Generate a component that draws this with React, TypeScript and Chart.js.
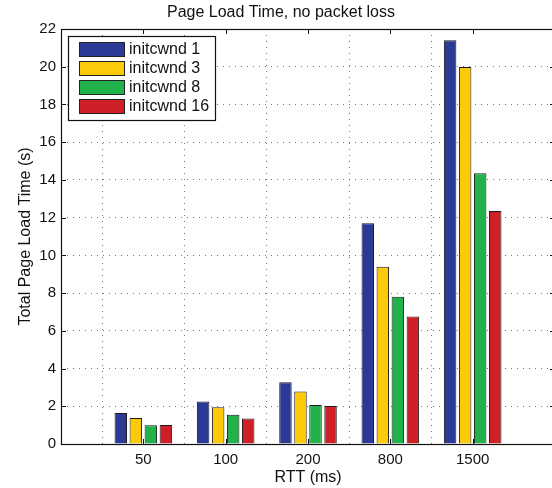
import React, { useEffect, useRef } from "react";
import { Chart, registerables } from "chart.js";

Chart.register(...registerables);

const categories = ["50", "100", "200", "800", "1500"];
const seriesLabels = ["initcwnd 1", "initcwnd 3", "initcwnd 8", "initcwnd 16"];
const initcwnd1 = [1.65, 2.25, 3.28, 11.7, 21.4];
const initcwnd3 = [1.38, 1.95, 2.78, 9.4, 19.98];
const initcwnd8 = [1.0, 1.55, 2.07, 7.8, 14.35];
const initcwnd16 = [1.01, 1.35, 2.01, 6.76, 12.35];
const yTicks = [0, 2, 4, 6, 8, 10, 12, 14, 16, 18, 20, 22];

const colors = ["#2b3a94", "#fdca0a", "#22b24c", "#cf2027"];
const FONT = "'Liberation Sans', Arial, Helvetica, sans-serif";

const pad = (arr: number[]) => [null, ...arr, null];

const framePlugin = {
  id: "frame",
  afterDatasetsDraw(chart: any) {
    const { ctx, chartArea: a, scales } = chart;
    ctx.save();
    ctx.strokeStyle = "#111";
    ctx.lineWidth = 1;
    // inward tick marks
    ctx.beginPath();
    for (const v of yTicks) {
      const y = Math.round(scales.y.getPixelForValue(v)) + 0.5;
      ctx.moveTo(a.left, y);
      ctx.lineTo(a.left + 5, y);
      ctx.moveTo(a.right, y);
      ctx.lineTo(a.right - 5, y);
    }
    for (let i = 1; i <= categories.length; i++) {
      const x = Math.round(scales.x.getPixelForValue(i)) + 0.5;
      ctx.moveTo(x, a.bottom);
      ctx.lineTo(x, a.bottom - 5);
      ctx.moveTo(x, a.top);
      ctx.lineTo(x, a.top + 5);
    }
    ctx.stroke();
    ctx.lineWidth = 1.2;
    ctx.strokeRect(
      Math.round(a.left) + 0.5,
      Math.round(a.top) + 0.5,
      Math.round(a.right - a.left),
      Math.round(a.bottom - a.top)
    );
    // legend
    const lx = 68, ly = 36, lw = 147, lh = 84;
    ctx.fillStyle = "#fff";
    ctx.fillRect(lx, ly, lw, lh);
    ctx.lineWidth = 1.2;
    ctx.strokeStyle = "#111";
    ctx.strokeRect(lx + 0.5, ly + 0.5, lw, lh);
    ctx.font = `16px ${FONT}`;
    ctx.textBaseline = "middle";
    ctx.textAlign = "left";
    chart.data.datasets.forEach((ds: any, i: number) => {
      const cy = 49 + i * 19;
      ctx.fillStyle = ds.backgroundColor;
      ctx.fillRect(79, cy - 7, 45, 14);
      ctx.lineWidth = 1;
      ctx.strokeStyle = "#222";
      ctx.strokeRect(79.5, cy - 6.5, 45, 14);
      ctx.fillStyle = "#111";
      ctx.fillText(ds.label, 129, cy + 1);
    });
    ctx.restore();
  },
};

export default function App() {
  const ref = useRef<HTMLCanvasElement>(null);
  useEffect(() => {
    if (!ref.current) return;
    const seriesValues = [initcwnd1, initcwnd3, initcwnd8, initcwnd16];
    const chart = new Chart(ref.current, {
      type: "bar",
      data: {
        labels: ["", ...categories, ""],
        datasets: seriesValues.map((vals, i) => ({
          label: seriesLabels[i],
          data: pad(vals) as any,
          backgroundColor: colors[i],
          borderColor: "#1c1c1c",
          borderWidth: 1,
          barPercentage: 0.83,
          categoryPercentage: 0.73,
        })),
      },
      options: {
        animation: false,
        responsive: false,
        maintainAspectRatio: false,
        layout: { padding: 0 },
        plugins: {
          legend: { display: false },
          tooltip: { enabled: false },
          title: {
            display: true,
            text: "Page Load Time, no packet loss",
            color: "#111",
            font: { family: FONT, size: 16, weight: "normal" },
            padding: { top: 3, bottom: 6.8 },
          },
        },
        scales: {
          x: {
            type: "category",
            offset: false,
            border: { display: false },
            grid: {
              drawTicks: false,
              color: (c: any) =>
                c.index === 0 || c.index === categories.length + 1
                  ? "rgba(0,0,0,0)"
                  : "rgba(60,60,60,0.7)",
              lineWidth: 1,
            },
            ticks: {
              autoSkip: false,
              maxRotation: 0,
              color: "#111",
              padding: 7,
              font: { family: FONT, size: 15 },
            },
            title: {
              display: true,
              text: "RTT (ms)",
              color: "#111",
              font: { family: FONT, size: 16 },
              padding: { top: 0, bottom: 0.5 },
            },
            afterFit: (s: any) => {
              s.height = 44;
            },
          },
          y: {
            min: 0,
            max: 22,
            border: { display: false },
            grid: {
              drawTicks: false,
              color: (c: any) =>
                c.tick.value === 0 || c.tick.value === 22
                  ? "rgba(0,0,0,0)"
                  : "rgba(60,60,60,0.7)",
              lineWidth: 1,
            },
            afterBuildTicks: (s: any) => {
              s.ticks = yTicks.map((v) => ({ value: v }));
            },
            ticks: {
              color: "#111",
              padding: 5,
              font: { family: FONT, size: 15 },
            },
            title: {
              display: true,
              text: "Total Page Load Time (s)",
              color: "#111",
              font: { family: FONT, size: 16 },
              padding: { top: 16, bottom: 0 },
            },
            afterFit: (s: any) => {
              s.width = 61;
            },
          },
        },
      },
      plugins: [framePlugin],
    });
    (chart.options.scales as any).x.border.dash = [1, 5];
    (chart.options.scales as any).y.border.dash = [1, 5];
    chart.update();
    return () => chart.destroy();
  }, []);
  return (
    <div
      style={{
        position: "fixed",
        left: 0,
        top: 0,
        width: 552,
        height: 488,
        overflow: "hidden",
        background: "#fff",
      }}
    >
      <canvas ref={ref} width={562} height={488} style={{ display: "block" }} />
    </div>
  );
}
